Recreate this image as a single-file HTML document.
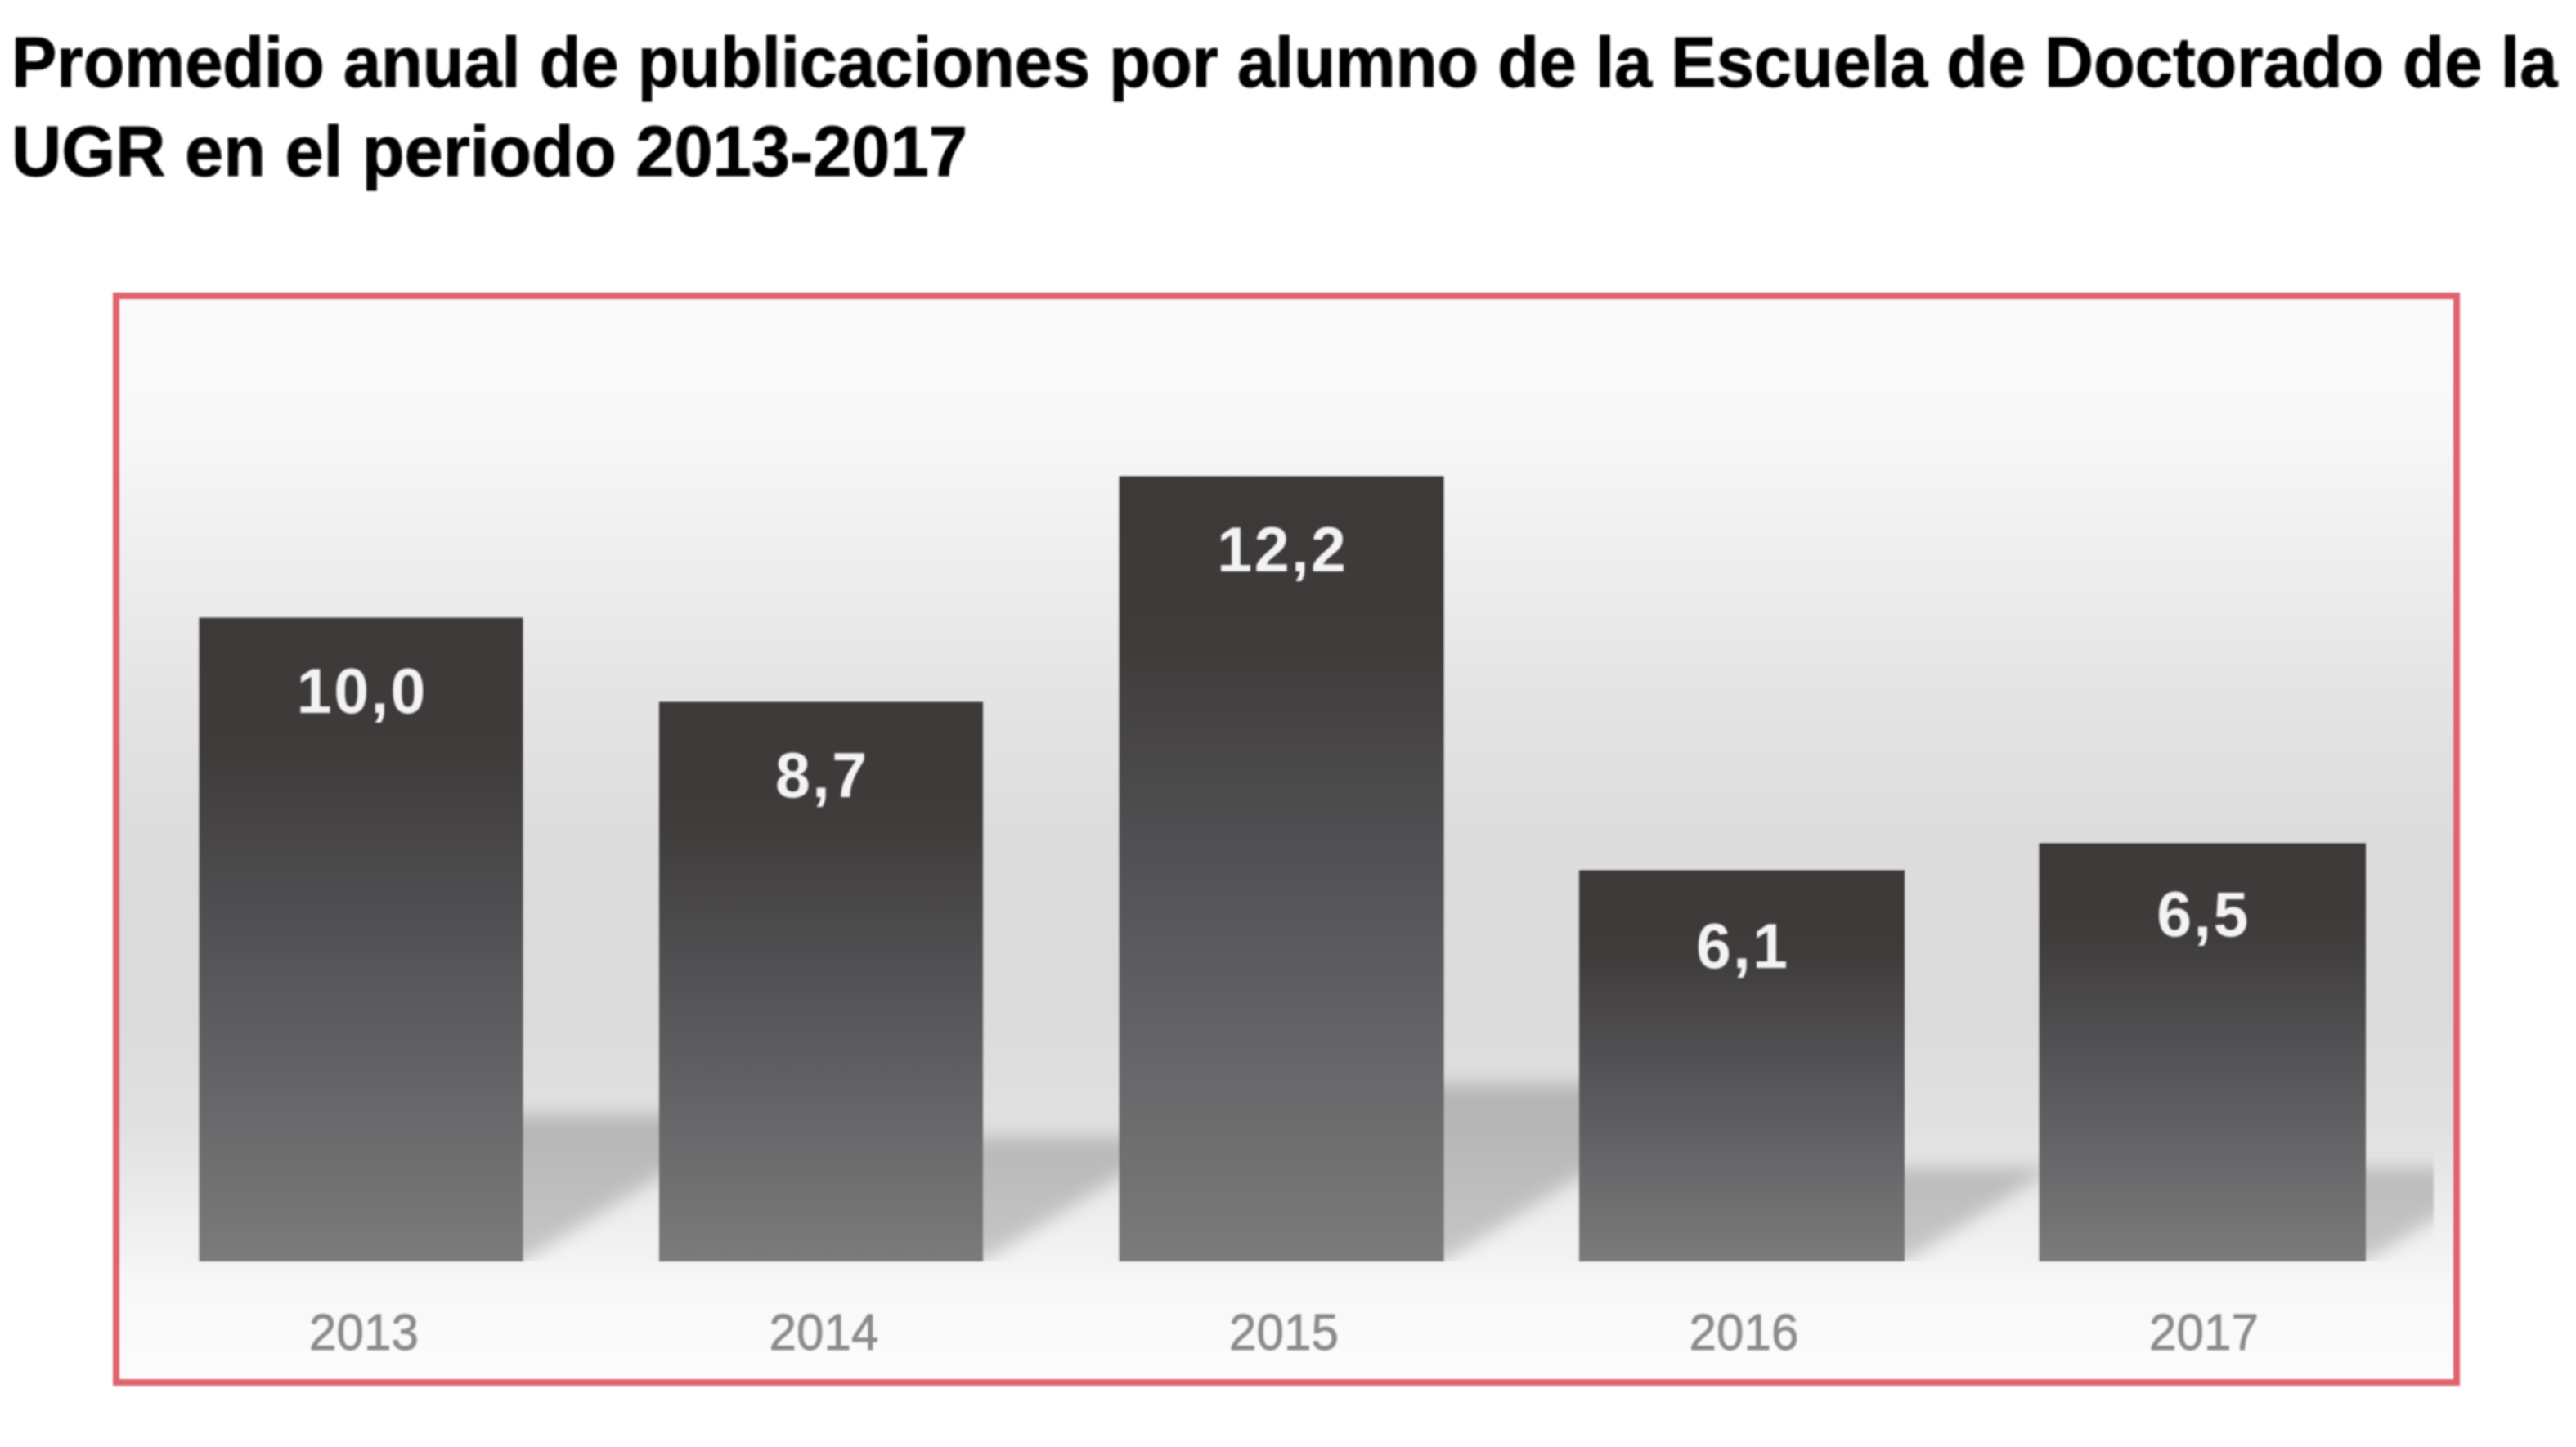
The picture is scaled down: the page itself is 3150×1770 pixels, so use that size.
<!DOCTYPE html>
<html><head><meta charset="utf-8">
<style>
html,body{margin:0;padding:0;width:3150px;height:1770px;overflow:hidden;background:#fff}
body{position:relative;font-family:"Liberation Sans",sans-serif}
#wrap{position:absolute;left:0;top:0;width:3150px;height:1770px;filter:blur(1.3px)}
.t{position:absolute;left:0;white-space:nowrap;font-weight:bold;font-size:87.2px;color:#000;line-height:1;-webkit-text-stroke:0.9px #000}
#t1{top:32.3px;left:14px;transform:scaleX(0.952);transform-origin:0 0}
#t2{top:141.3px;left:14px;transform:scaleX(0.9726);transform-origin:0 0}
svg{position:absolute;left:0;top:0}
</style></head><body>
<div id="wrap">
<div class="t" id="t1">Promedio anual de publicaciones por alumno de la Escuela de Doctorado de la</div>
<div class="t" id="t2">UGR en el periodo 2013-2017</div>
<svg width="3150" height="1770" viewBox="0 0 3150 1770">
<defs>
<linearGradient id="bg" x1="0" y1="366" x2="0" y2="1687" gradientUnits="userSpaceOnUse">
<stop offset="0" stop-color="#fbfbfb"/>
<stop offset="0.12" stop-color="#f8f8f8"/>
<stop offset="0.23" stop-color="#efeff0"/>
<stop offset="0.385" stop-color="#e3e3e3"/>
<stop offset="0.5" stop-color="#dcdcdc"/>
<stop offset="0.66" stop-color="#dbdbdb"/>
<stop offset="0.768" stop-color="#e1e1e1"/>
<stop offset="0.891" stop-color="#f4f4f4"/>
<stop offset="0.911" stop-color="#f8f8f8"/>
<stop offset="1" stop-color="#fcfcfc"/>
</linearGradient>
<linearGradient id="bar" x1="0" y1="0" x2="0" y2="1">
<stop offset="0" stop-color="#3d3938"/>
<stop offset="0.2" stop-color="#3e3b3a"/>
<stop offset="0.5" stop-color="#535255"/>
<stop offset="0.7" stop-color="#636265"/>
<stop offset="1" stop-color="#7b7b7b"/>
</linearGradient>
<filter id="blur" x="-20%" y="-20%" width="140%" height="140%"><feGaussianBlur stdDeviation="11"/></filter>
<clipPath id="plot"><rect x="160.75" y="366" width="2815" height="1177"/></clipPath>
</defs>
<rect x="142" y="362" width="2862" height="1329" fill="url(#bg)"/>
<g clip-path="url(#plot)"><g filter="url(#blur)" fill="#000" fill-opacity="0.19">
<polygon points="243.5,1543 639.5,1543 925.9,1364 529.9,1364"/>
<polygon points="806,1543 1202,1543 1445.2,1391 1049.2,1391"/>
<polygon points="1368.5,1543 1765.5,1543 2112.7,1326 1715.7,1326"/>
<polygon points="1931,1543 2329,1543 2513.0,1428 2115.0,1428"/>
<polygon points="2493.5,1543 2893,1543 3077.8,1427.5 2678.3,1427.5"/>
</g></g>
<rect x="243.5" y="755.5" width="396" height="787.5" fill="url(#bar)"/>
<rect x="806" y="858.5" width="396" height="684.5" fill="url(#bar)"/>
<rect x="1368.5" y="582.5" width="397" height="960.5" fill="url(#bar)"/>
<rect x="1931" y="1064.5" width="398" height="478.5" fill="url(#bar)"/>
<rect x="2493.5" y="1031.5" width="399.5" height="511.5" fill="url(#bar)"/>
<g font-family="Liberation Sans" font-weight="bold" font-size="77" fill="#f3f3f3" text-anchor="middle" letter-spacing="2.5">
<text x="442.8" y="872">10,0</text>
<text x="1005.3" y="975">8,7</text>
<text x="1568.3" y="699">12,2</text>
<text x="2131.3" y="1184">6,1</text>
<text x="2694.5" y="1145">6,5</text>
</g>
<g font-family="Liberation Sans" font-size="63" fill="#8b8b8b" stroke="#8b8b8b" stroke-width="0.8" text-anchor="middle">
<text transform="translate(445 1651) scale(0.955 1)">2013</text>
<text transform="translate(1007.5 1651) scale(0.955 1)">2014</text>
<text transform="translate(1570 1651) scale(0.955 1)">2015</text>
<text transform="translate(2132.5 1651) scale(0.955 1)">2016</text>
<text transform="translate(2695 1651) scale(0.955 1)">2017</text>
</g>
<rect x="142" y="362" width="2862" height="1329" fill="none" stroke="#df646d" stroke-width="8"/>
</svg>
</div>
</body></html>
